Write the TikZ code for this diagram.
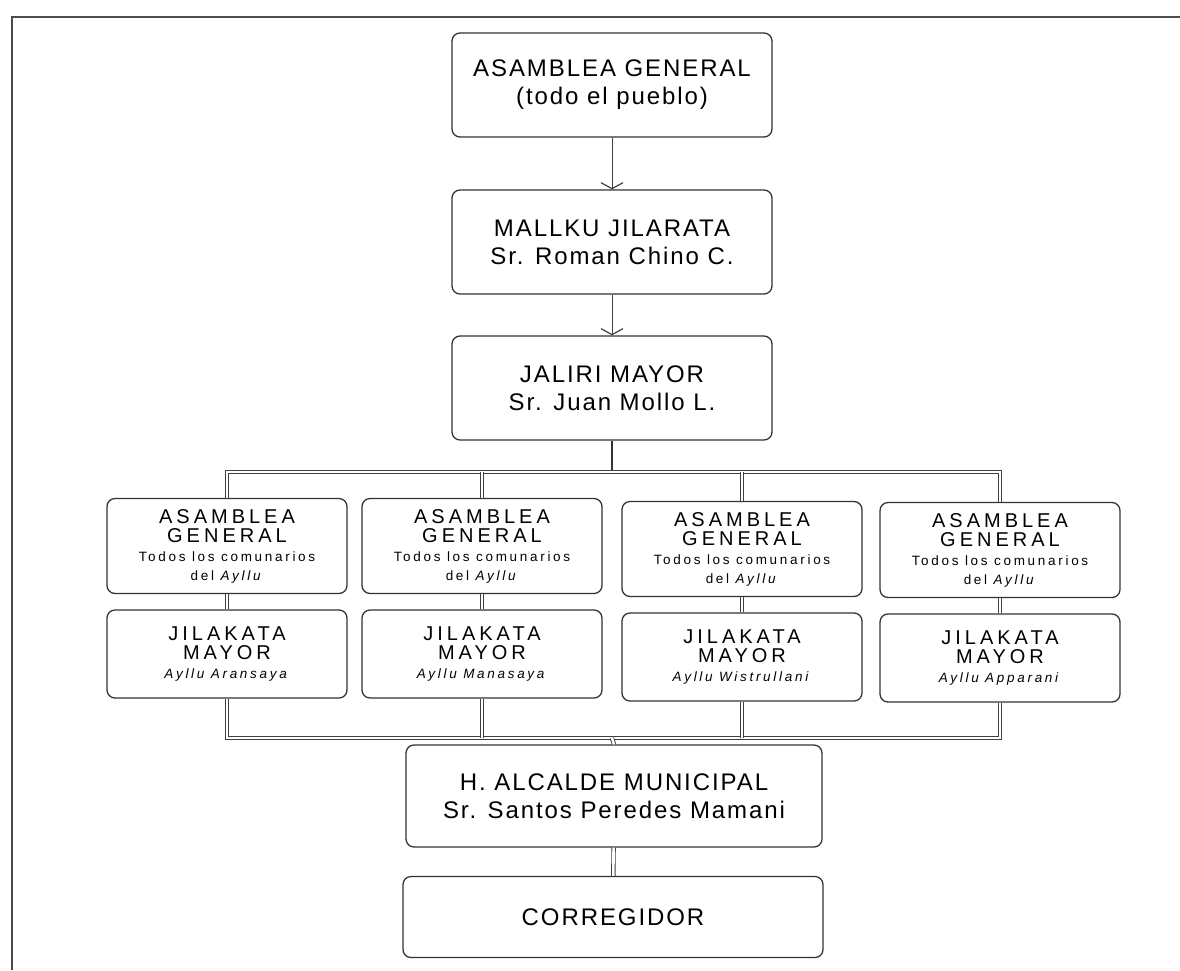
\documentclass[tikz,border=0pt]{standalone}
\usepackage{fontspec}
\setmainfont{Liberation Sans}
\newfontfamily\boxfont[LetterSpace=8]{Liberation Sans}
\newfontfamily\colfont[LetterSpace=20]{Liberation Sans}
\newcommand\smalltxt{\fontsize{13.5}{13}\selectfont}
\usetikzlibrary{arrows.meta}

\begin{document}
\begin{tikzpicture}[x=1pt,y=-1pt,
    bigbox/.style={draw=black!80,line width=1.3pt,rounded corners=8pt,
      minimum width=320pt,minimum height=104pt,inner sep=0pt,align=center,
      font=\boxfont\fontsize{24}{28}\selectfont},
    colbox/.style={draw=black!80,line width=1.3pt,rounded corners=8pt,
      minimum width=240pt,inner sep=0pt,align=center,
      font=\colfont\fontsize{20}{19}\selectfont},
    dbl/.style={draw=black!75,double,double distance=2.6pt,line width=0.9pt},
    arr/.style={draw=black!75,line width=1pt,-{Straight Barb[length=6pt,width=22pt,line width=1.2pt]}}]
  \useasboundingbox (0,0) rectangle (1180,970);
  \draw[black!70,line width=1.5pt] (12,970) -- (12,17) -- (1180,17);

  \node[bigbox] (asam) at (612,85) {ASAMBLEA GENERAL\\(todo el pueblo)};
  \node[bigbox] (mallku) at (612,242) {MALLKU JILARATA\\Sr. Roman Chino C.};
  \node[bigbox] (jaliri) at (612,388) {JALIRI MAYOR\\Sr. Juan Mollo L.};

  \node[colbox,minimum height=95pt] (ag1) at (227,546) {ASAMBLEA\\GENERAL\\\smalltxt Todos los comunarios\\\smalltxt del \textit{Ayllu}};
  \node[colbox,minimum height=95pt] (ag2) at (482,546) {ASAMBLEA\\GENERAL\\\smalltxt Todos los comunarios\\\smalltxt del \textit{Ayllu}};
  \node[colbox,minimum height=95pt] (ag3) at (742,549) {ASAMBLEA\\GENERAL\\\smalltxt Todos los comunarios\\\smalltxt del \textit{Ayllu}};
  \node[colbox,minimum height=95pt] (ag4) at (1000,550) {ASAMBLEA\\GENERAL\\\smalltxt Todos los comunarios\\\smalltxt del \textit{Ayllu}};

  \node[colbox,minimum height=88pt] (jm1) at (227,654) {JILAKATA\\MAYOR\\\smalltxt\textit{Ayllu Aransaya}};
  \node[colbox,minimum height=88pt] (jm2) at (482,654) {JILAKATA\\MAYOR\\\smalltxt\textit{Ayllu Manasaya}};
  \node[colbox,minimum height=88pt] (jm3) at (742,657) {JILAKATA\\MAYOR\\\smalltxt\textit{Ayllu Wistrullani}};
  \node[colbox,minimum height=88pt] (jm4) at (1000,658) {JILAKATA\\MAYOR\\\smalltxt\textit{Ayllu Apparani}};

  \node[bigbox,minimum width=416pt,minimum height=102pt] (alcalde) at (614,796) {H. ALCALDE MUNICIPAL\\Sr. Santos Peredes Mamani};
  \node[bigbox,minimum width=420pt,minimum height=81pt] (corr) at (613,917) {CORREGIDOR};

  \coordinate (topbus) at (612,472);
  \coordinate (botbus) at (612,738);

  % arrows and lines
  \draw[arr] (asam) -- (mallku);
  \draw[arr] (mallku) -- (jaliri);
  \draw[black!80,line width=1.2pt] (jaliri) -- (topbus);
  \draw[dbl] (ag1.north) |- (topbus) -| (ag4.north);
  \draw[dbl] (jm1.south) |- (botbus) -| (jm4.south);
  \foreach \i in {1,...,4}
    \draw[dbl] (ag\i) -- (jm\i);
  \foreach \i in {2,3} {
    \draw[dbl] (ag\i.north |- topbus) -- (ag\i.north);
    \draw[dbl] (jm\i.south) -- (jm\i.south |- botbus);
  }
  \draw[dbl] (botbus) -- (alcalde.north);
  \draw[dbl] (alcalde) -- (corr);
\end{tikzpicture}
\end{document}
